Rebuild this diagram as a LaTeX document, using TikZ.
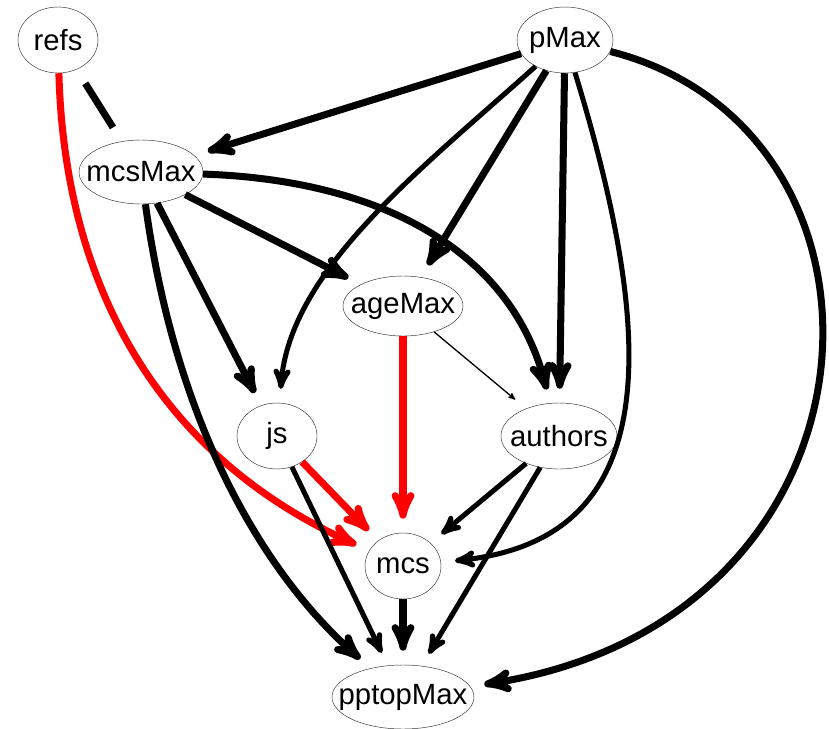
\documentclass[tikz,border=0pt]{standalone}
\usepackage{fontspec}
\setmainfont{Liberation Sans}
\usetikzlibrary{arrows,shapes.geometric}
\newcommand{\lbl}[1]{\makebox[0pt]{#1}}

\begin{document}
\begin{tikzpicture}[->,>=stealth',shorten >=12pt,x=0.03cm,y=0.03cm,
                    heavy/.style={line width=6pt},
                    medium/.style={line width=4.3pt},
                    light/.style={line width=1.1pt}]
  \tikzstyle{every node}=[ellipse,draw=black!80,thin,inner sep=0pt,
                          font=\fontsize{25}{30}\selectfont]
  \useasboundingbox (0,0) rectangle (829,-729);

  \node (refs)     at (58,-40)   [minimum width=2.4cm,minimum height=1.98cm]  {\lbl{refs}};
  \node (pMax)     at (565,-40)  [minimum width=2.88cm,minimum height=1.98cm] {\lbl{pMax}};
  \node (mcsMax)   at (141,-172) [minimum width=3.72cm,minimum height=1.92cm] {\lbl{mcsMax}};
  \node (ageMax)   at (403,-306) [minimum width=3.6cm,minimum height=1.8cm]   {\lbl{ageMax}};
  \node (js)       at (277,-436) [minimum width=2.4cm,minimum height=1.98cm]  {\lbl{js}};
  \node (authors)  at (559,-436) [minimum width=3.48cm,minimum height=1.98cm] {\lbl{authors}};
  \node (mcs)      at (403,-566) [minimum width=2.28cm,minimum height=1.98cm] {\lbl{mcs}};
  \node (pptopMax) at (403,-697) [minimum width=4.26cm,minimum height=1.92cm] {\lbl{pptopMax}};

  % undirected link
  \draw[-,heavy,shorten <=14pt,shorten >=14pt] (refs) -- (mcsMax);

  % red edges
  \draw[heavy,red] (refs) .. controls (65,-300) and (170,-460) .. (mcs);
  \draw[heavy,red] (js) -- (mcs);
  \draw[heavy,red] (ageMax) -- (mcs);

  % from pMax
  \draw[heavy]  (pMax) -- (mcsMax);
  \draw[medium] (pMax) .. controls (420,-170) and (290,-270) .. (js);
  \draw[heavy]  (pMax) -- (ageMax);
  \draw[heavy]  (pMax) -- (authors);
  \draw[medium] (pMax) .. controls (660,-350) and (660,-540) .. (mcs);
  \draw[heavy]  (pMax) .. controls (920,-130) and (900,-620) .. (pptopMax);

  % from mcsMax
  \draw[heavy] (mcsMax) -- (ageMax);
  \draw[heavy] (mcsMax) .. controls (380,-180) and (510,-250) .. (authors);
  \draw[heavy] (mcsMax) -- (js);
  \draw[heavy] (mcsMax) .. controls (175,-420) and (260,-570) .. (pptopMax);

  % lower part
  \draw[medium] (js) -- (pptopMax);
  \draw[light]  (ageMax) -- (authors);
  \draw[medium] (authors) -- (mcs);
  \draw[medium] (authors) -- (pptopMax);
  \draw[heavy]  (mcs) -- (pptopMax);
\end{tikzpicture}
\end{document}
